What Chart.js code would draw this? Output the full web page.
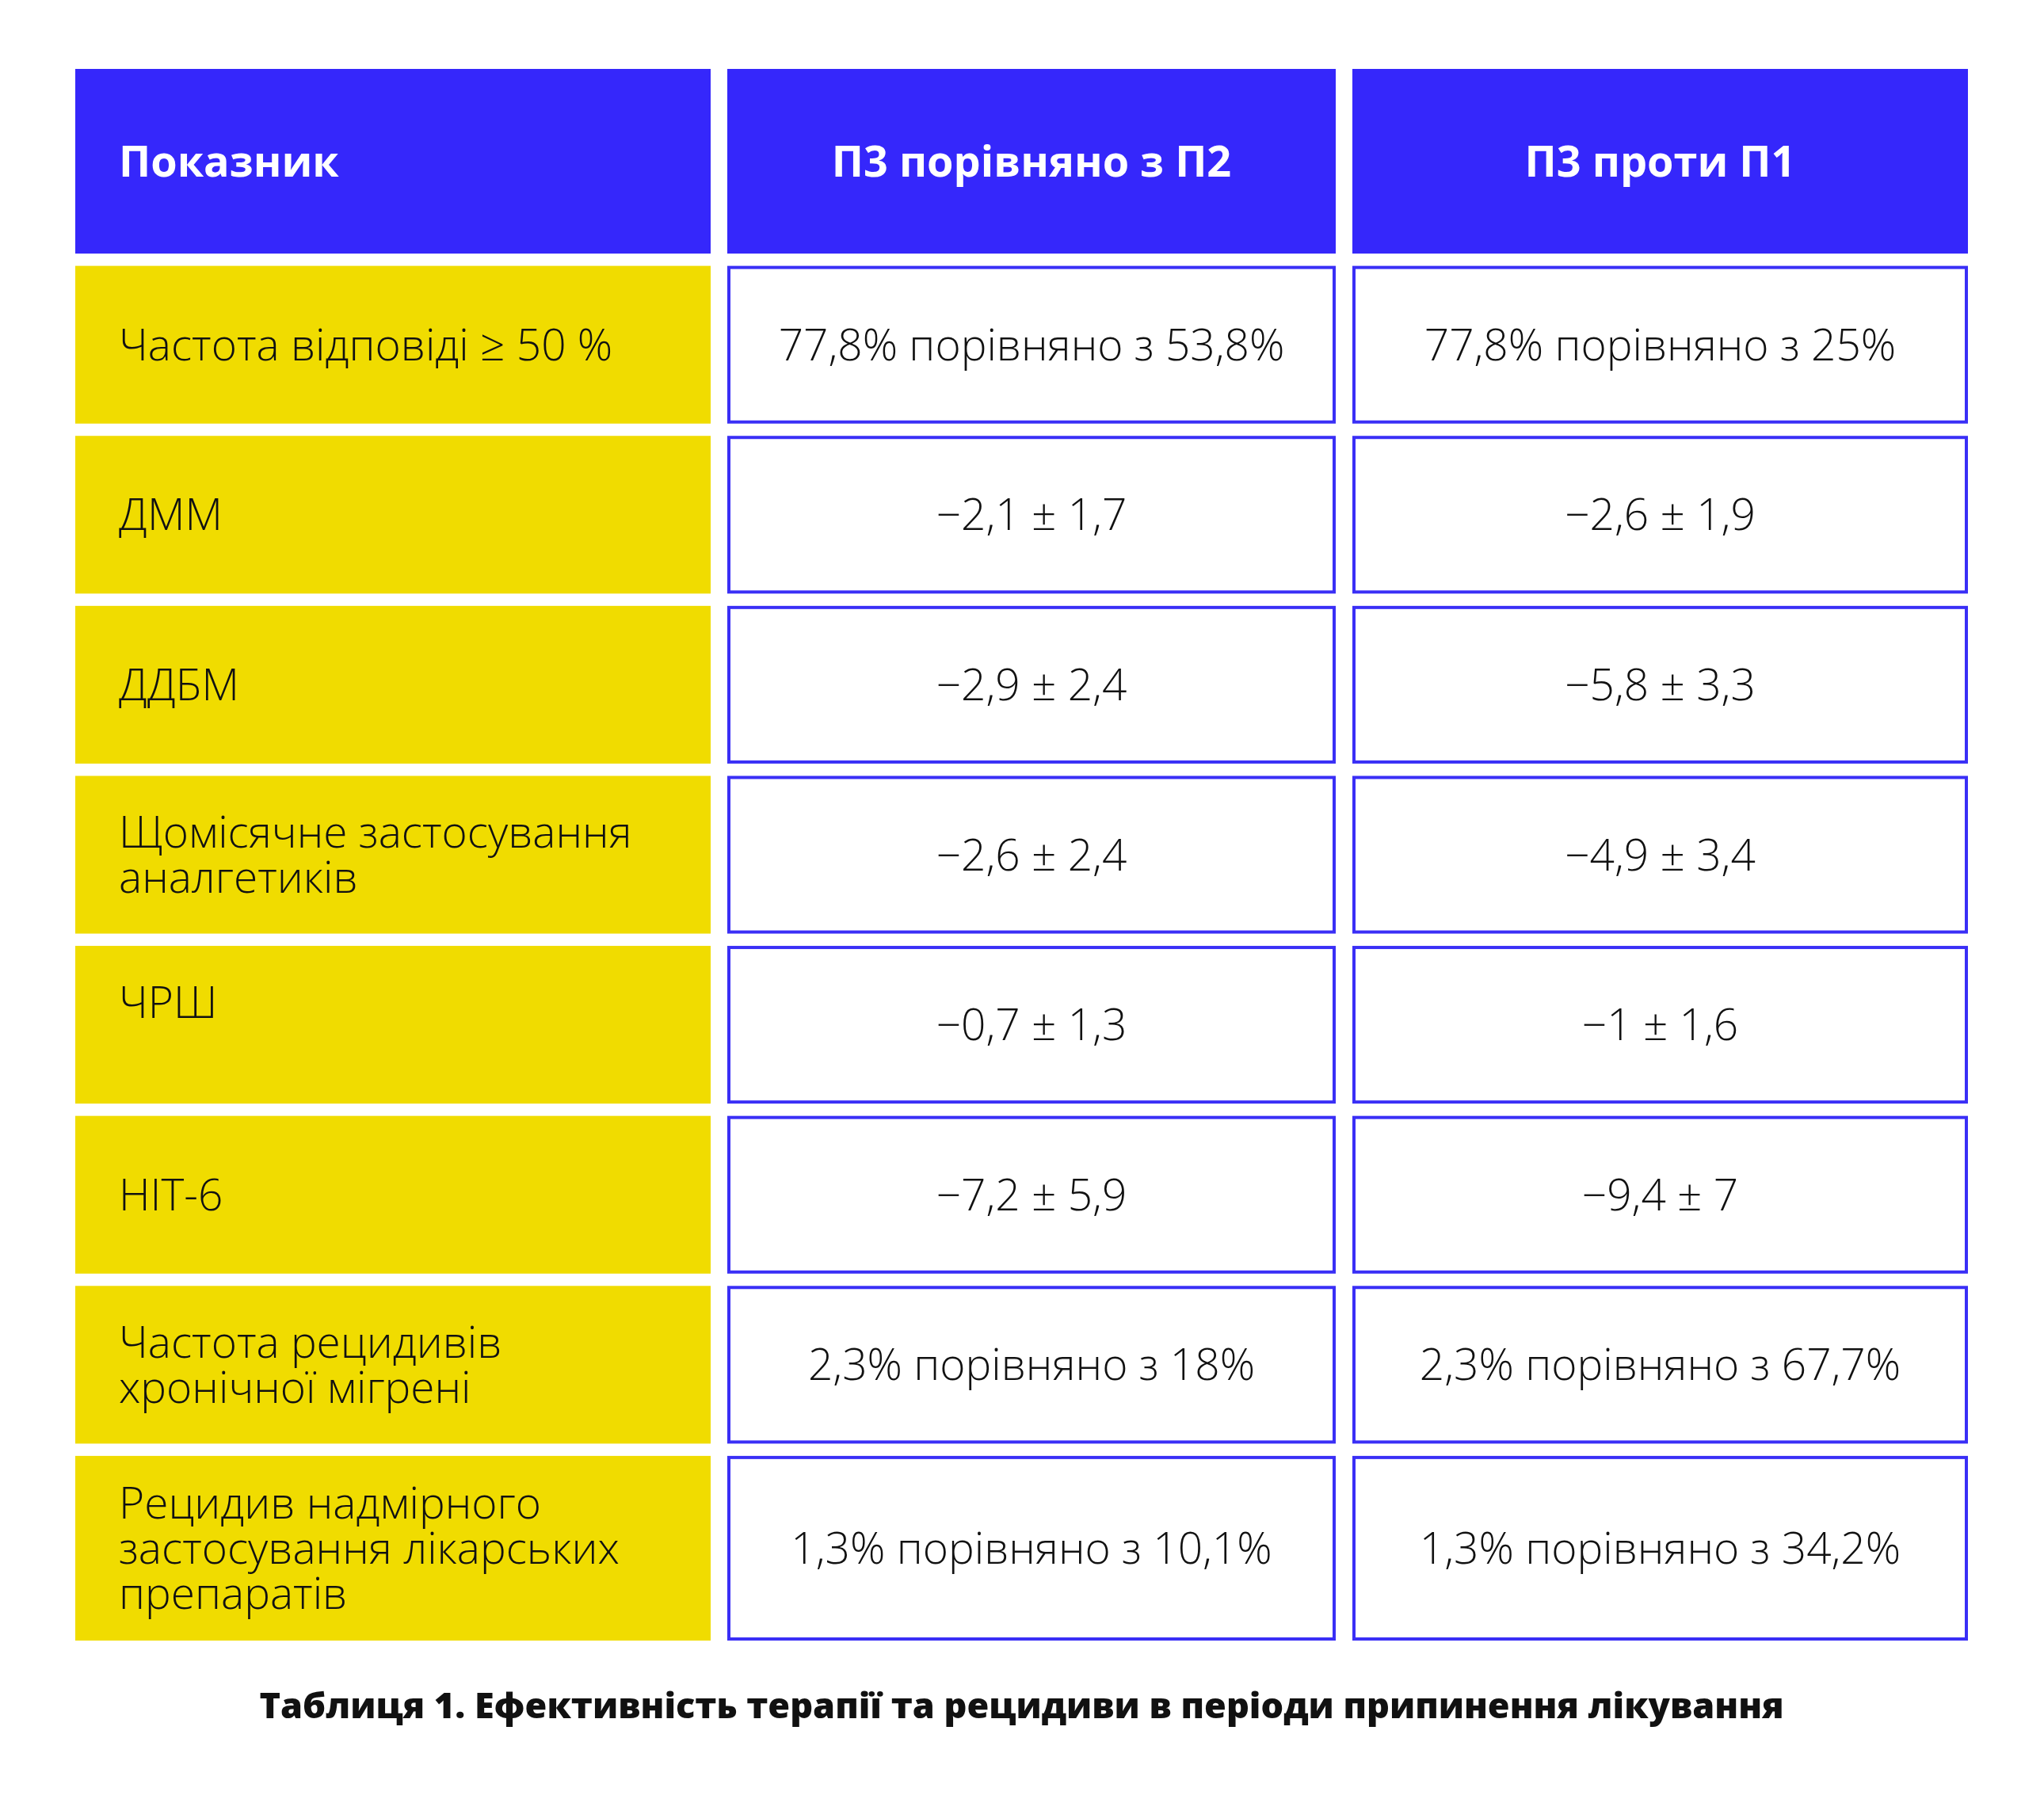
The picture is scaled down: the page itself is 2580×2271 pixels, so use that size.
<!DOCTYPE html>
<html>
<head>
<meta charset="utf-8">
<script src="https://cdn.jsdelivr.net/npm/chart.js@4.4.1/dist/chart.umd.min.js"></script>
<style>
html,body{margin:0;padding:0;background:#ffffff;}
#wrap{width:2580px;height:2271px;position:relative;}
</style>
</head>
<body>
<div id="wrap"><canvas id="c" width="2580" height="2271"></canvas></div>
<script>
// ---- data ----
const headers = ["Показник", "П3 порівняно з П2", "П3 проти П1"];
const indicators = [
  ["Частота відповіді ≥ 50 %"],
  ["ДММ"],
  ["ДДБМ"],
  ["Щомісячне застосування", "аналгетиків"],
  ["ЧРШ", ""],
  ["HIT-6"],
  ["Частота рецидивів", "хронічної мігрені"],
  ["Рецидив надмірного", "застосування лікарських", "препаратів"]
];
const p3VsP2 = [
  "77,8% порівняно з 53,8%",
  "−2,1 ± 1,7",
  "−2,9 ± 2,4",
  "−2,6 ± 2,4",
  "−0,7 ± 1,3",
  "−7,2 ± 5,9",
  "2,3% порівняно з 18%",
  "1,3% порівняно з 10,1%"
];
const p3VsP1 = [
  "77,8% порівняно з 25%",
  "−2,6 ± 1,9",
  "−5,8 ± 3,3",
  "−4,9 ± 3,4",
  "−1 ± 1,6",
  "−9,4 ± 7",
  "2,3% порівняно з 67,7%",
  "1,3% порівняно з 34,2%"
];
const caption = "Таблиця 1. Ефективність терапії та рецидиви в періоди припинення лікування";

// ---- layout (table units) ----
const colWidths = [802, 768, 777];
const colGap = 21;
const headerHeight = 233;
const rowHeights = [199, 199, 199, 199, 199, 199, 199, 233];
const rowGap = 15.5;

const colStarts = [];
{ let acc = 0; colWidths.forEach(w => { colStarts.push(acc); acc += w + colGap; }); }
const totalW = colStarts[colStarts.length - 1] + colWidths[colWidths.length - 1];
const allRowHeights = [headerHeight].concat(rowHeights);
const rowStarts = [];
{ let acc = 0; allRowHeights.forEach(h => { rowStarts.push(acc); acc += h + rowGap; }); }
const totalH = rowStarts[rowStarts.length - 1] + allRowHeights[allRowHeights.length - 1];

// ---- styles ----
const BLUE = "#3527fb";
const BORDER = "#3a2ff6";
const YELLOW = "#f0dc00";
const TEXT = "#111111";
const FONT = "'Open Sans', 'Noto Sans', sans-serif";
const bodySize = 55;
const headSize = 54;
const lineH = 57;
const padLeft = 55;

const tablePlugin = {
  id: 'tableCells',
  beforeDatasetsDraw(chart) {
    const ctx = chart.ctx;
    const xs = chart.scales.x, ys = chart.scales.y;
    const cols = [null, p3VsP2, p3VsP1];
    ctx.save();
    for (let r = 0; r < allRowHeights.length; r++) {
      const y0 = ys.getPixelForValue(rowStarts[r]);
      const y1 = ys.getPixelForValue(rowStarts[r] + allRowHeights[r]);
      const yc = (y0 + y1) / 2;
      for (let c = 0; c < colWidths.length; c++) {
        const x0 = xs.getPixelForValue(colStarts[c]);
        const x1 = xs.getPixelForValue(colStarts[c] + colWidths[c]);
        const w = x1 - x0, h = y1 - y0;
        if (r === 0) {
          ctx.fillStyle = BLUE;
          ctx.fillRect(x0, y0, w, h);
          ctx.fillStyle = "#ffffff";
          ctx.font = "700 " + headSize + "px " + FONT;
          ctx.textBaseline = "alphabetic";
          const base = yc + headSize * 0.714 / 2;
          if (c === 0) { ctx.textAlign = "left"; ctx.fillText(headers[c], x0 + padLeft, base); }
          else { ctx.textAlign = "center"; ctx.fillText(headers[c], (x0 + x1) / 2, base); }
        } else if (c === 0) {
          ctx.fillStyle = YELLOW;
          ctx.fillRect(x0, y0, w, h);
          ctx.fillStyle = TEXT;
          ctx.font = "300 " + bodySize + "px " + FONT;
          ctx.textAlign = "left";
          ctx.textBaseline = "alphabetic";
          const lines = indicators[r - 1];
          const n = lines.length;
          lines.forEach((ln, i) => {
            const base = yc - (n - 1) * lineH / 2 + i * lineH + bodySize * 0.714 / 2;
            ctx.fillText(ln, x0 + padLeft, base);
          });
        } else {
          ctx.fillStyle = "#ffffff";
          ctx.fillRect(x0, y0, w, h);
          ctx.strokeStyle = BORDER;
          ctx.lineWidth = 4;
          ctx.strokeRect(x0 + 2, y0 + 2, w - 4, h - 4);
          ctx.fillStyle = TEXT;
          ctx.font = "300 " + bodySize + "px " + FONT;
          ctx.textAlign = "center";
          ctx.textBaseline = "alphabetic";
          ctx.fillText(cols[c][r - 1], (x0 + x1) / 2, yc + bodySize * 0.714 / 2);
        }
      }
    }
    ctx.restore();
  }
};

new Chart(document.getElementById('c'), {
  type: 'bar',
  data: { labels: [], datasets: [] },
  options: {
    responsive: false,
    animation: false,
    devicePixelRatio: 1,
    layout: { padding: { left: 95, right: 96, top: 87, bottom: 88 } },
    scales: {
      x: { type: 'linear', min: 0, max: totalW, display: false, offset: false },
      y: { type: 'linear', min: 0, max: totalH, reverse: true, display: false, offset: false }
    },
    plugins: {
      legend: { display: false },
      tooltip: { enabled: false },
      title: {
        display: true,
        position: 'bottom',
        text: caption,
        color: TEXT,
        font: { family: FONT, size: 45, weight: '800', lineHeight: 1.2 },
        padding: { top: 58, bottom: 0 }
      }
    }
  },
  plugins: [tablePlugin]
});
</script>
</body>
</html>
